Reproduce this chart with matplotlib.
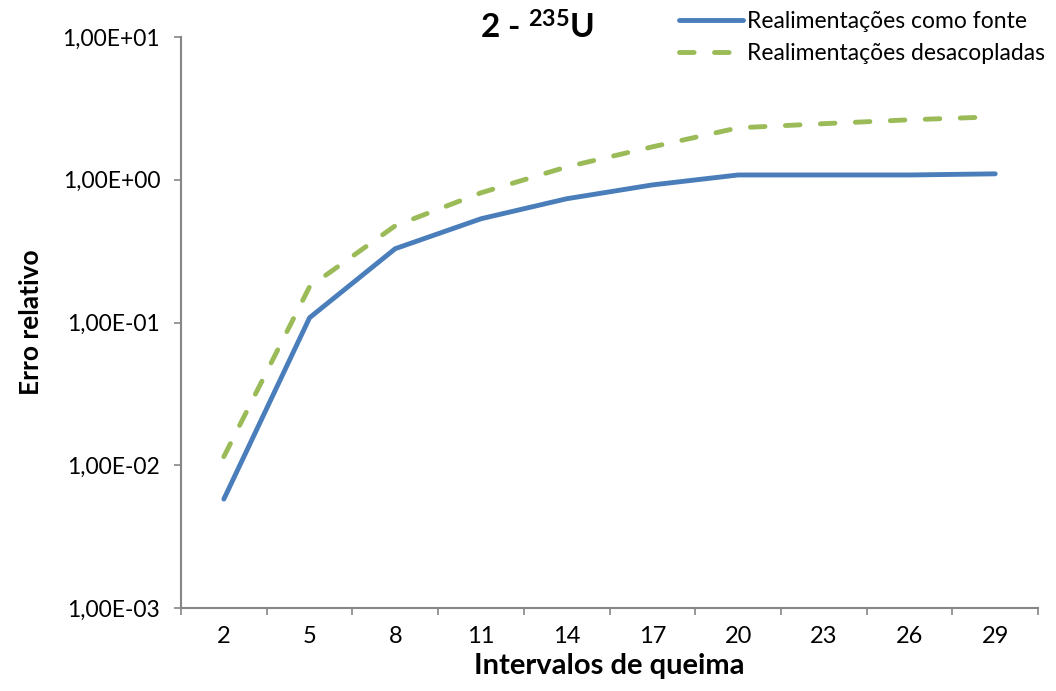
import numpy as np
import matplotlib
matplotlib.use("Agg")
import matplotlib.pyplot as plt
import matplotlib.ticker as ticker

# dados: erro relativo por intervalo de queima
intervalos = [2, 5, 8, 11, 14, 17, 20, 23, 26, 29]
erro_fonte = [0.0058, 0.108, 0.329, 0.533, 0.736, 0.92, 1.08, 1.08, 1.08, 1.10]
erro_desacopl = [0.0115, 0.178, 0.476, 0.81, 1.23, 1.70, 2.31, 2.47, 2.63, 2.76]
rotulos_y = ["1,00E-03", "1,00E-02", "1,00E-01", "1,00E+00", "1,00E+01"]

plt.rcParams['font.family'] = ['Lato', 'DejaVu Sans']
plt.rcParams['mathtext.fontset'] = 'custom'
plt.rcParams['mathtext.rm'] = 'Lato'
plt.rcParams['mathtext.bf'] = 'Lato:bold'

fig = plt.figure(figsize=(10.56, 6.91), dpi=100)
ax = fig.add_axes([0.1714, 0.120, 0.8116, 0.8265])

x = np.arange(len(intervalos))
ax.plot(x, erro_fonte, color='#4A7EBB', lw=3.5, solid_capstyle='round',
        solid_joinstyle='round', label='Realimentações como fonte')
ax.plot(x, erro_desacopl, color='#9BBB59', lw=3.5, linestyle=(0, (3.0, 4.2)),
        dash_capstyle='round', label='Realimentações desacopladas')

ax.set_yscale('log')
ax.set_ylim(1e-3, 1e1)
ax.set_xlim(-0.5, len(intervalos) - 0.5)
ax.yaxis.set_major_locator(ticker.FixedLocator([1e-3, 1e-2, 1e-1, 1e0, 1e1]))
ax.yaxis.set_major_formatter(ticker.FixedFormatter(rotulos_y))
ax.yaxis.set_minor_locator(ticker.NullLocator())

# marcas entre categorias, rótulos no centro
ax.set_xticks(np.arange(-0.5, len(intervalos), 1.0))
ax.set_xticklabels([])
ax.set_xticks(x, minor=True)
ax.set_xticklabels([str(v) for v in intervalos], minor=True, fontsize=17)
ax.tick_params(axis='x', which='minor', length=0, pad=13)
ax.tick_params(axis='x', which='major', length=5, color='#868686', width=1.2)
ax.tick_params(axis='y', length=5, color='#868686', width=1.2, labelsize=16.5, pad=10)

for s in ['top', 'right']:
    ax.spines[s].set_visible(False)
for s in ['left', 'bottom']:
    ax.spines[s].set_color('#868686')
    ax.spines[s].set_linewidth(1.5)

ax.set_xlabel('Intervalos de queima', fontsize=21, fontweight='bold', labelpad=4)
ax.set_ylabel('Erro relativo', fontsize=19, fontweight='bold', labelpad=14)

fig.text(0.509, 0.960, r'2 - $\mathbf{^{235}U}$', fontsize=24, fontweight='bold',
         ha='center', va='center')

fig.legend(loc='upper right', bbox_to_anchor=(1.0, 1.0), frameon=False,
           fontsize=16.5, handlelength=2.8, handletextpad=0.15, labelspacing=0.45,
           borderaxespad=0.1)

fig.savefig('out.png', dpi=100, facecolor='white')
